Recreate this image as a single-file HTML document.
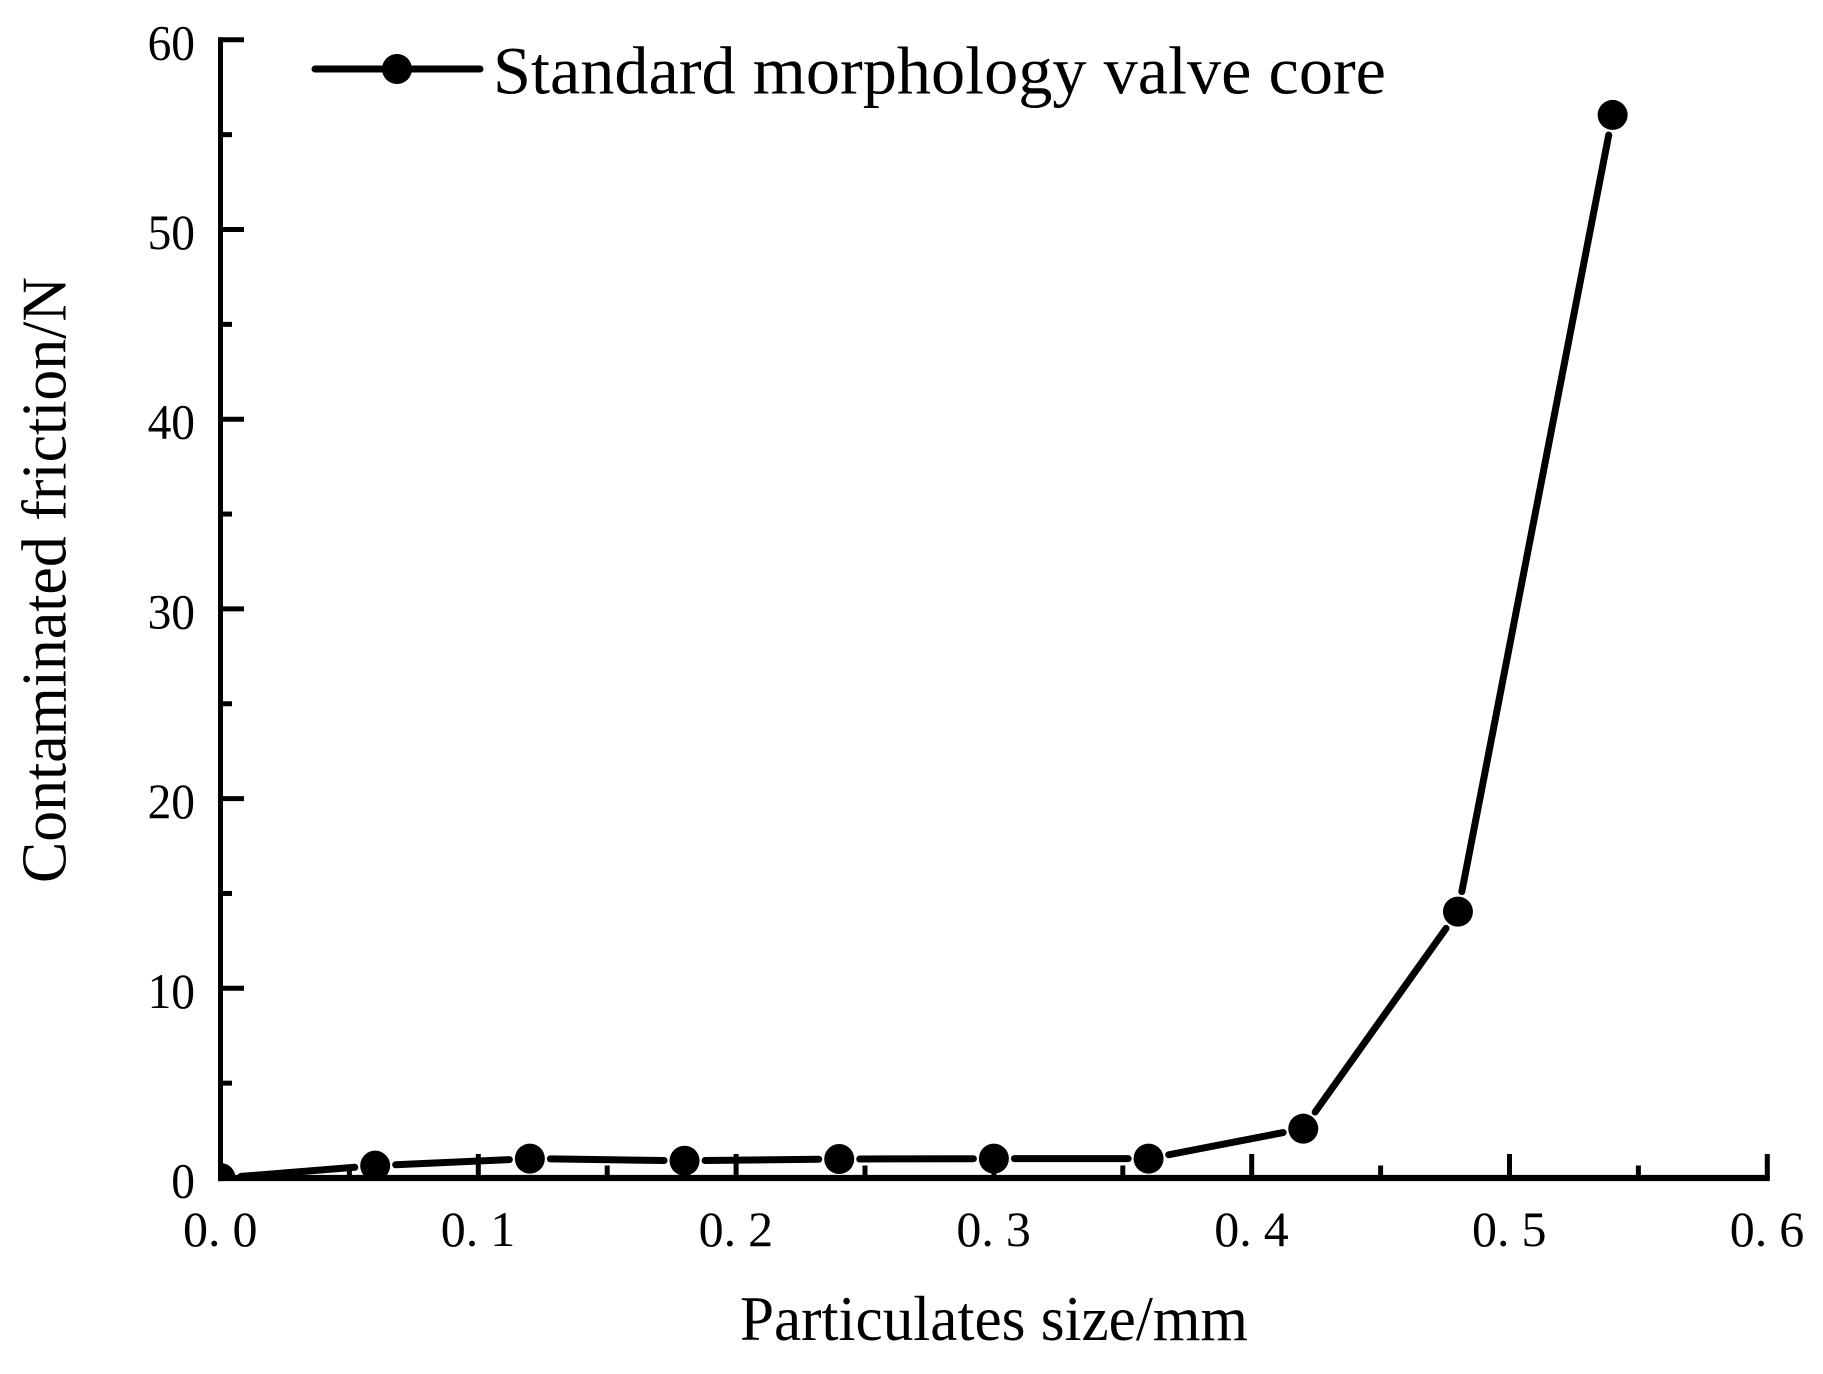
<!DOCTYPE html>
<html lang="en">
<head>
<meta charset="utf-8">
<title>Contaminated friction vs particulates size</title>
<style>
  html, body { margin: 0; padding: 0; background: #fff; }
  svg { display: block; }
  text { font-family: "Liberation Serif", serif; fill: #000; }
</style>
</head>
<body>
<svg id="chart" xmlns="http://www.w3.org/2000/svg" width="1823" height="1374" viewBox="0 0 1823 1374">
  <defs>
    <clipPath id="plot-clip"><rect x="220" y="0" width="1603" height="1178"></rect></clipPath>
  </defs>
  <rect x="0" y="0" width="1823" height="1374" fill="#fff"></rect>
  <g id="series"></g>
  <g id="axes"></g>
  <g id="legend">
    <line x1="315" y1="69" x2="480" y2="69" stroke="#000" stroke-width="7" stroke-linecap="round"></line>
    <circle cx="397" cy="69" r="15" fill="#000"></circle>
    <text x="493" y="93.5" font-size="68" textLength="893" lengthAdjust="spacingAndGlyphs">Standard morphology valve core</text>
  </g>
  <text x="740" y="1340" font-size="63" textLength="508" lengthAdjust="spacingAndGlyphs">Particulates size/mm</text>
  <text transform="translate(65.5 883) rotate(-90)" x="0" y="0" font-size="64" textLength="606" lengthAdjust="spacingAndGlyphs">Contaminated friction/N</text>
</svg>
<script>
const xValues = [0, 0.06, 0.12, 0.18, 0.24, 0.30, 0.36, 0.42, 0.48, 0.54];
const yValues = [0, 0.65, 1.02, 0.91, 1.0, 1.02, 1.02, 2.6, 14.04, 56.04];
const xMajorTicks = [0, 0.1, 0.2, 0.3, 0.4, 0.5, 0.6];
const xMajorLabels = ["0.0", "0.1", "0.2", "0.3", "0.4", "0.5", "0.6"];
const xMinorTicks = [0.05, 0.15, 0.25, 0.35, 0.45, 0.55];
const yMajorTicks = [0, 10, 20, 30, 40, 50, 60];
const yMajorLabels = ["0", "10", "20", "30", "40", "50", "60"];
const yMinorTicks = [5, 15, 25, 35, 45, 55];

const SVG_NS = "http://www.w3.org/2000/svg";
const xScale = v => 220.5 + v * (1767.3 - 220.5) / 0.6;
const yScale = v => 1178 - v * (1178 - 39.8) / 60;
const seriesGroup = document.getElementById("series");
const axesGroup = document.getElementById("axes");

function makeLine(parent, x1, y1, x2, y2, width, cap) {
  const l = document.createElementNS(SVG_NS, "line");
  l.setAttribute("x1", x1);
  l.setAttribute("y1", y1);
  l.setAttribute("x2", x2);
  l.setAttribute("y2", y2);
  l.setAttribute("stroke", "#000");
  l.setAttribute("stroke-width", width);
  l.setAttribute("stroke-linecap", cap || "butt");
  parent.appendChild(l);
  return l;
}

/* series: line segments with a small gap around each marker */
const MARKER_R = 15;
const GAP = MARKER_R + 5.5;
for (let i = 0; i < xValues.length - 1; i++) {
  const ax = xScale(xValues[i]), ay = yScale(yValues[i]);
  const bx = xScale(xValues[i + 1]), by = yScale(yValues[i + 1]);
  const len = Math.hypot(bx - ax, by - ay);
  const ux = (bx - ax) / len, uy = (by - ay) / len;
  const seg = makeLine(seriesGroup, ax + ux * GAP, ay + uy * GAP, bx - ux * GAP, by - uy * GAP, 7, "round");
  
  
}
xValues.forEach((xv, i) => {
  const c = document.createElementNS(SVG_NS, "circle");
  c.setAttribute("cx", xScale(xv));
  c.setAttribute("cy", yScale(yValues[i]));
  c.setAttribute("r", MARKER_R);
  c.setAttribute("fill", "#000");
  c.setAttribute("clip-path", "url(#plot-clip)");
  
  
  seriesGroup.appendChild(c);
});

/* axes */
const yAxisLine = makeLine(axesGroup, xScale(0), yScale(60) - 2.5, xScale(0), yScale(0) + 3.1, 5);


const xAxisLine = makeLine(axesGroup, xScale(0) - 2.5, yScale(0), xScale(0.6) + 2.5, yScale(0), 6.3);



xMajorTicks.forEach((v, i) => {
  if (v > 0) {
    const t = makeLine(axesGroup, xScale(v), yScale(0), xScale(v), 1154, 5);
    
    
  }
  const label = document.createElementNS(SVG_NS, "text");
  const px = xScale(v);
  label.setAttribute("x", [px - 37.5, px - 12.5, px + 12].join(" "));
  label.setAttribute("y", 1246);
  label.setAttribute("font-size", 50);
  label.textContent = xMajorLabels[i];
  
  
  axesGroup.appendChild(label);
});
xMinorTicks.forEach(v => {
  const t = makeLine(axesGroup, xScale(v), yScale(0), xScale(v), 1165.5, 5);
  
  
});
yMajorTicks.forEach((v, i) => {
  if (v > 0) {
    const t = makeLine(axesGroup, xScale(0), yScale(v), 244, yScale(v), 5);
    
    
  }
  const label = document.createElementNS(SVG_NS, "text");
  label.setAttribute("x", 195);
  label.setAttribute("y", yScale(v) + 19.5);
  label.setAttribute("font-size", 50);
  label.setAttribute("text-anchor", "end");
  label.setAttribute("textLength", yMajorLabels[i].length * 23.7);
  label.setAttribute("lengthAdjust", "spacingAndGlyphs");
  label.textContent = yMajorLabels[i];
  
  
  axesGroup.appendChild(label);
});
yMinorTicks.forEach(v => {
  const t = makeLine(axesGroup, xScale(0), yScale(v), 232, yScale(v), 5);
  
  
});
</script>
</body>
</html>
